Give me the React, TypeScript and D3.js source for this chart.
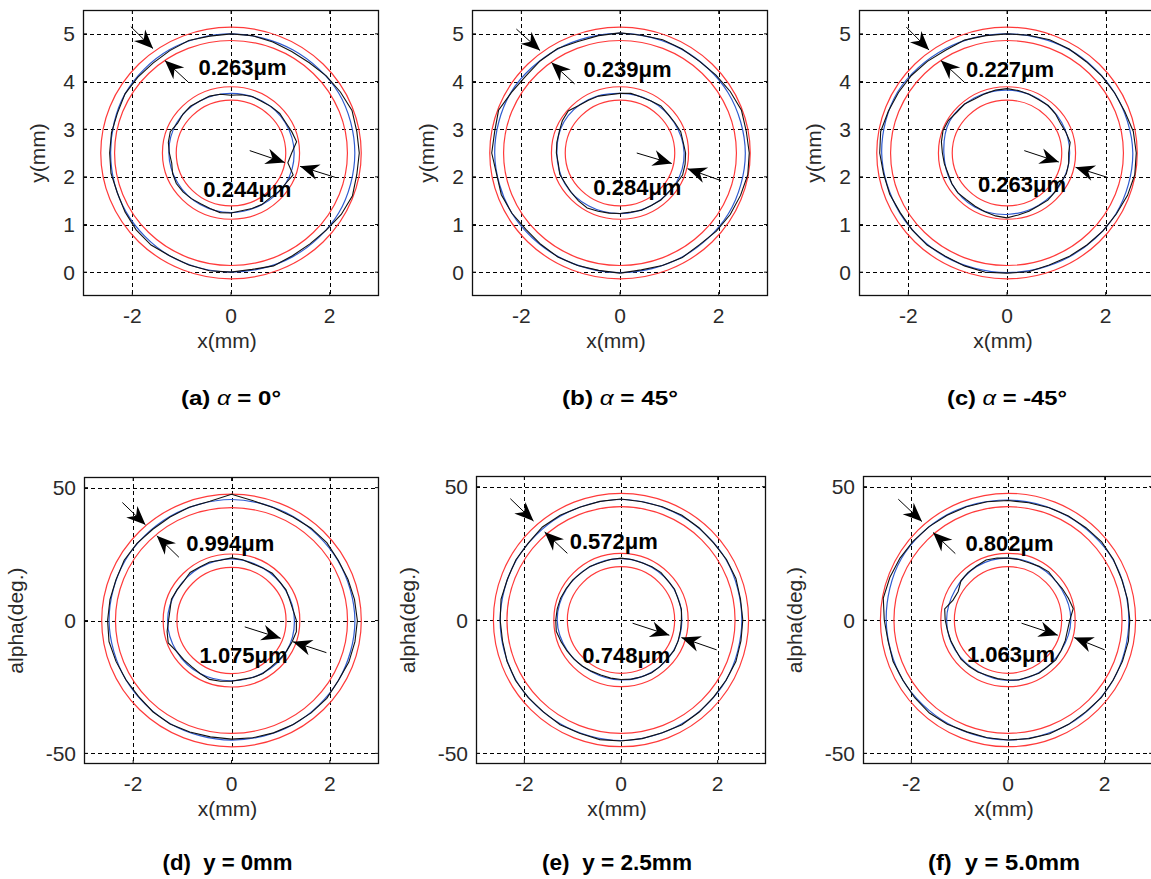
import React from 'react';
import * as d3 from 'd3';

const W = 1151;
const H = 879;

// axes
const xTicks = [-2, 0, 2];
const yTicksTop = [0, 1, 2, 3, 4, 5];
const yTicksBottom = [-50, 0, 50];
const xDomain = [-3, 3];
const yDomainTop = [-0.5, 5.5];
const yDomainBottom = [-54, 54];

// nominal rings (mm) and tolerance band
const ringRadii = [2.5, 1.25];
const tolerance = 0.14;
const ringCenterY = [2.5, 0];
const yUnitsPerMm = [1, 18];

// measured profile: radial deviation (mm), every 10 deg from +x, ccw
const blackOuter = [
  [0.10, 0.09, 0.11, 0.06, 0.02, -0.03, -0.04, -0.02, 0.00, 0.00, -0.01, 0.01, -0.02, -0.04, -0.03, -0.02, -0.05, -0.04, -0.04, -0.03, -0.05, -0.02, 0.01, 0.02, -0.01, 0.00, 0.01, 0.00, -0.02, 0.02, -0.01, -0.01, 0.02, 0.08, 0.12, 0.09],
  [0.12, 0.10, 0.12, 0.08, 0.04, 0.01, 0.02, 0.03, 0.01, 0.02, 0.00, -0.01, 0.03, 0.02, 0.00, 0.04, 0.12, 0.08, 0.10, 0.04, 0.06, 0.03, -0.01, 0.00, 0.02, 0.01, 0.00, 0.02, -0.01, 0.01, 0.03, 0.01, 0.05, 0.08, 0.10, 0.13],
  [0.12, 0.10, 0.04, 0.02, 0.01, 0.00, 0.02, 0.03, 0.01, 0.00, 0.00, 0.02, -0.01, 0.01, 0.03, 0.04, 0.06, 0.10, 0.08, 0.04, 0.03, 0.00, 0.01, 0.02, 0.00, 0.02, 0.04, 0.02, 0.03, 0.00, 0.01, 0.02, 0.04, 0.06, 0.10, 0.13],
  [0.06, 0.04, 0.02, 0.01, 0.03, 0.02, 0.00, 0.01, 0.04, 0.14, 0.03, 0.02, 0.00, -0.01, 0.01, 0.02, 0.00, 0.01, 0.02, 0.03, 0.00, -0.02, -0.03, -0.01, 0.00, -0.02, -0.03, -0.02, -0.01, 0.00, 0.01, 0.02, 0.03, 0.01, 0.04, 0.05],
  [0.02, 0.01, 0.03, 0.02, 0.00, 0.01, 0.02, 0.01, 0.00, 0.02, 0.01, 0.00, 0.02, 0.03, 0.00, 0.01, 0.00, 0.02, 0.00, -0.01, 0.01, 0.02, 0.01, 0.00, 0.02, 0.01, 0.03, 0.02, 0.01, 0.00, 0.02, 0.01, 0.00, 0.01, 0.03, 0.02],
  [0.02, 0.01, 0.00, 0.02, 0.03, 0.01, 0.00, -0.01, -0.02, -0.01, 0.00, 0.01, 0.02, 0.04, 0.06, 0.08, 0.10, 0.12, 0.06, 0.02, 0.03, 0.01, 0.02, 0.03, 0.01, -0.02, -0.01, 0.00, 0.01, 0.02, 0.01, 0.00, 0.02, 0.01, 0.02, 0.03],
];
const blackInner = [
  [-0.02, 0.10, 0.06, 0.03, 0.04, 0.02, 0.00, 0.01, -0.01, -0.04, 0.00, 0.02, 0.01, 0.03, 0.02, 0.00, 0.06, 0.04, 0.00, -0.03, 0.01, 0.03, 0.02, 0.00, -0.02, -0.01, 0.02, 0.01, -0.02, -0.01, 0.00, -0.02, 0.01, 0.03, 0.09, -0.08],
  [0.08, 0.05, 0.06, 0.03, 0.02, 0.04, 0.01, 0.00, 0.02, 0.00, -0.01, 0.02, 0.03, 0.05, 0.12, 0.10, 0.06, 0.05, 0.04, 0.02, 0.05, 0.03, 0.04, 0.06, 0.08, 0.05, 0.03, 0.02, 0.01, 0.03, 0.02, 0.04, 0.03, 0.06, 0.10, 0.09],
  [0.00, 0.05, 0.02, 0.00, 0.03, 0.05, 0.04, 0.06, 0.08, 0.10, 0.09, 0.07, 0.06, 0.09, 0.08, 0.12, 0.13, 0.10, 0.06, 0.04, 0.02, 0.04, 0.05, 0.03, 0.04, 0.06, 0.09, 0.11, 0.07, 0.05, 0.03, 0.04, 0.02, 0.00, 0.03, 0.02],
  [0.07, 0.02, 0.01, 0.03, 0.02, 0.04, 0.02, 0.01, 0.04, 0.06, 0.03, 0.05, 0.04, 0.06, 0.02, 0.03, 0.05, 0.02, 0.03, 0.08, 0.12, 0.04, 0.02, 0.01, 0.03, 0.06, 0.04, 0.02, 0.00, 0.02, 0.03, 0.01, 0.02, 0.04, 0.06, 0.09],
  [0.00, 0.02, 0.01, 0.03, 0.02, 0.04, 0.03, 0.02, 0.03, 0.04, 0.03, 0.02, 0.04, 0.03, 0.05, 0.06, 0.08, 0.09, 0.10, 0.11, 0.07, 0.04, 0.02, 0.00, -0.02, -0.03, -0.02, -0.01, 0.00, 0.01, 0.02, 0.01, 0.00, 0.02, 0.01, 0.00],
  [0.03, 0.12, 0.08, 0.05, 0.03, 0.06, 0.04, 0.02, 0.03, 0.04, 0.06, 0.08, 0.05, 0.04, 0.02, -0.06, -0.04, 0.08, 0.05, 0.02, 0.01, 0.00, 0.02, 0.01, 0.00, -0.02, -0.01, 0.00, 0.02, 0.01, 0.03, 0.02, 0.04, 0.02, 0.01, 0.00],
];

// fitted profile: radial deviation (mm), every 30 deg
const blueOuter = [
  [0.01, 0.02, 0.00, 0.00, 0.00, -0.02, -0.06, -0.04, -0.01, 0.00, 0.01, 0.02],
  [0.04, 0.03, 0.01, 0.01, 0.02, 0.05, 0.04, 0.03, 0.01, 0.01, 0.02, 0.04],
  [0.05, 0.02, 0.01, 0.00, 0.02, 0.06, 0.04, 0.01, 0.01, 0.01, 0.02, 0.05],
  [0.01, 0.00, 0.01, 0.03, 0.01, 0.00, -0.01, -0.02, -0.01, 0.00, 0.01, 0.01],
  [0.00, 0.01, 0.00, 0.01, 0.00, 0.00, 0.00, 0.01, 0.00, 0.01, 0.00, 0.01],
  [0.00, 0.01, -0.01, 0.00, 0.03, 0.05, 0.02, 0.01, -0.01, 0.00, 0.01, 0.01],
];
const blueInner = [
  [0.03, 0.02, 0.01, 0.00, 0.01, 0.02, 0.01, 0.00, 0.00, 0.00, 0.00, 0.03],
  [0.05, 0.02, 0.01, 0.00, 0.04, 0.06, 0.03, 0.04, 0.03, 0.02, 0.02, 0.05],
  [0.02, 0.03, 0.05, 0.07, 0.08, 0.09, 0.03, 0.04, 0.06, 0.04, 0.02, 0.02],
  [0.03, 0.02, 0.02, 0.04, 0.03, 0.03, 0.05, 0.04, 0.03, 0.01, 0.02, 0.04],
  [0.01, 0.02, 0.02, 0.03, 0.03, 0.05, 0.07, 0.03, -0.01, 0.00, 0.01, 0.01],
  [0.05, 0.03, 0.03, 0.04, 0.04, 0.01, 0.02, 0.01, -0.01, 0.01, 0.02, 0.02],
];

// annotation arrows [tailX, tailY, headX, headY] in data units
const arrows = [
  [[-2.03, 5.15, -1.58, 4.69], [-0.87, 3.99, -1.34, 4.44], [0.38, 2.55, 1.09, 2.30], [2.11, 1.99, 1.40, 2.22]],
  [[-2.10, 5.10, -1.62, 4.65], [-0.92, 3.95, -1.39, 4.40], [0.34, 2.50, 1.05, 2.28], [2.05, 1.92, 1.37, 2.17]],
  [[-2.04, 5.14, -1.58, 4.66], [-0.87, 3.99, -1.34, 4.44], [0.35, 2.55, 1.05, 2.31], [2.03, 1.99, 1.39, 2.20]],
  [[-2.22, 44.4, -1.75, 36.0], [-1.07, 23.8, -1.52, 31.9], [0.27, -2.4, 1.00, -6.7], [1.93, -12.1, 1.25, -8.0]],
  [[-2.29, 45.5, -1.81, 37.1], [-1.11, 25.0, -1.58, 33.0], [0.24, -1.2, 1.00, -5.7], [1.98, -11.2, 1.25, -6.6]],
  [[-2.27, 45.3, -1.78, 36.9], [-1.09, 24.9, -1.55, 32.8], [0.28, -1.2, 1.03, -5.7], [2.00, -11.2, 1.37, -6.6]],
];

const widthText = [
  ['0.263μm', '0.244μm'],
  ['0.239μm', '0.284μm'],
  ['0.227μm', '0.263μm'],
  ['0.994μm', '1.075μm'],
  ['0.572μm', '0.748μm'],
  ['0.802μm', '1.063μm'],
];
const widthTextPos = [
  [[-0.66, 4.13], [-0.56, 1.57]],
  [[-0.74, 4.10], [-0.54, 1.61]],
  [[-0.83, 4.10], [-0.59, 1.68]],
  [[-0.92, 26.3], [-0.65, -16.1]],
  [[-1.06, 26.5], [-0.80, -16.0]],
  [[-0.88, 26.0], [-0.85, -15.9]],
];

const captionPrefix = ['(a) ', '(b) ', '(c) '];
const captionAlpha = ['0°', '45°', '-45°'];
const captionBottom = ['(d)  y = 0mm', '(e)  y = 2.5mm', '(f)  y = 5.0mm'];
const yLabels = ['y(mm)', 'alpha(deg.)'];

// layout
const frames = [
  { x: 83, y: 10, w: 296, h: 286 },
  { x: 472, y: 10, w: 296, h: 286 },
  { x: 859, y: 10, w: 296, h: 286 },
  { x: 84, y: 477, w: 295, h: 287 },
  { x: 476, y: 476, w: 290, h: 288 },
  { x: 863, y: 476, w: 290, h: 288 },
];
const topCaptionLen = [100, 116, 120];
const bottomCaptionLen = [130, 150, 152];

const FONT = 'Liberation Sans, Arial, Helvetica, sans-serif';
const RED = '#ff3a3a';
const BLUE = '#2f5bd0';

function Panel({ i }: { i: number }) {
  const f = frames[i];
  const row = i < 3 ? 0 : 1;
  const xs = d3.scaleLinear().domain(xDomain).range([f.x, f.x + f.w]);
  const ys = d3.scaleLinear().domain(row ? yDomainBottom : yDomainTop).range([f.y + f.h, f.y]);
  const cy = ringCenterY[row];
  const k = yUnitsPerMm[row];
  const yTicks = row ? yTicksBottom : yTicksTop;
  const clipId = `clip${i}`;

  const pt = (r: number, deg: number): [number, number] => {
    const t = (deg * Math.PI) / 180;
    return [xs(r * Math.cos(t)), ys(cy + k * r * Math.sin(t))];
  };
  const profile = (R: number, devs: number[], curve: any) => {
    const step = 360 / devs.length;
    const pts = devs.map((d, j) => pt(R + d, j * step));
    return d3.line().curve(curve)(pts) || '';
  };

  // notched arrowhead, tip at origin pointing +x
  const arrowHead = 'M0,0 L-19,-8 L-13,0 L-19,8 Z';

  return (
    <g>
      <defs>
        <clipPath id={clipId}>
          <rect x={f.x} y={f.y} width={f.w} height={f.h} />
        </clipPath>
      </defs>
      <rect x={f.x} y={f.y} width={f.w} height={f.h} fill="#fff" />
      {/* grid */}
      <g stroke="#000" strokeWidth={1} strokeDasharray="4,3" clipPath={`url(#${clipId})`}>
        {xTicks.map(t => (
          <line key={'gx' + t} x1={Math.round(xs(t)) + 0.5} x2={Math.round(xs(t)) + 0.5} y1={f.y} y2={f.y + f.h} />
        ))}
        {yTicks.map(t => (
          <line key={'gy' + t} x1={f.x} x2={f.x + f.w} y1={Math.round(ys(t)) + 0.5} y2={Math.round(ys(t)) + 0.5} />
        ))}
      </g>
      <g clipPath={`url(#${clipId})`} fill="none">
        {ringRadii.map(R =>
          [R - tolerance, R + tolerance].map(r => (
            <ellipse
              key={'red' + r}
              cx={xs(0)}
              cy={ys(cy)}
              rx={xs(r) - xs(0)}
              ry={ys(cy) - ys(cy + k * r)}
              stroke={RED}
              strokeWidth={1.2}
            />
          ))
        )}
        <path d={profile(ringRadii[0], blueOuter[i], d3.curveCatmullRomClosed)} stroke={BLUE} strokeWidth={1.2} />
        <path d={profile(ringRadii[1], blueInner[i], d3.curveCatmullRomClosed)} stroke={BLUE} strokeWidth={1.2} />
        <path d={profile(ringRadii[0], blackOuter[i], d3.curveLinearClosed)} stroke="#111" strokeWidth={1.1} />
        <path d={profile(ringRadii[1], blackInner[i], d3.curveLinearClosed)} stroke="#111" strokeWidth={1.1} />
      </g>
      {/* arrows */}
      {arrows[i].map(([tx, ty, hx, hy], j) => {
        const x1 = xs(tx), y1 = ys(ty), x2 = xs(hx), y2 = ys(hy);
        const ang = (Math.atan2(y2 - y1, x2 - x1) * 180) / Math.PI;
        return (
          <g key={'ar' + j}>
            <line x1={x1} y1={y1} x2={x2} y2={y2} stroke="#000" strokeWidth={1} />
            <path d={arrowHead} transform={`translate(${x2},${y2}) rotate(${ang})`} fill="#000" />
          </g>
        );
      })}
      {widthText[i].map((s, j) => (
        <text
          key={'wt' + j}
          x={xs(widthTextPos[i][j][0])}
          y={ys(widthTextPos[i][j][1])}
          fontFamily={FONT}
          fontWeight="bold"
          fontSize={22}
          fill="#000"
        >
          {s}
        </text>
      ))}
      {/* box and ticks */}
      <rect x={f.x + 0.5} y={f.y + 0.5} width={f.w - 1} height={f.h - 1} fill="none" stroke="#111" strokeWidth={1.3} />
      <g stroke="#111" strokeWidth={1}>
        {xTicks.map(t => (
          <g key={'tx' + t}>
            <line x1={xs(t)} x2={xs(t)} y1={f.y + f.h} y2={f.y + f.h - 4} />
            <line x1={xs(t)} x2={xs(t)} y1={f.y} y2={f.y + 4} />
          </g>
        ))}
        {yTicks.map(t => (
          <g key={'ty' + t}>
            <line x1={f.x} x2={f.x + 4} y1={ys(t)} y2={ys(t)} />
            <line x1={f.x + f.w} x2={f.x + f.w - 4} y1={ys(t)} y2={ys(t)} />
          </g>
        ))}
      </g>
      <g fontFamily={FONT} fontSize={21} fill="#2a2a2a">
        {xTicks.map(t => (
          <text key={'lx' + t} x={xs(t)} y={f.y + f.h + 27} textAnchor="middle">
            {t < 0 ? '-' + Math.abs(t) : String(t)}
          </text>
        ))}
        {yTicks.map(t => (
          <text key={'ly' + t} x={f.x - 8} y={ys(t) + 7.5} textAnchor="end">
            {t < 0 ? '-' + Math.abs(t) : String(t)}
          </text>
        ))}
        <text x={f.x + f.w / 2 - 4} y={f.y + f.h + 52} textAnchor="middle">
          x(mm)
        </text>
        <text
          transform={`translate(${row ? f.x - 61 : f.x - 38},${f.y + f.h / 2}) rotate(-90)`}
          textAnchor="middle"
        >
          {yLabels[row]}
        </text>
      </g>
    </g>
  );
}

export default function App() {
  return (
    <svg
      width={W}
      height={H}
      viewBox={`0 0 ${W} ${H}`}
      style={{ position: 'absolute', left: 0, top: 0, background: '#fff' }}
    >
      <rect x={0} y={0} width={W} height={H} fill="#fff" />
      {frames.map((_, i) => (
        <Panel key={i} i={i} />
      ))}
      {captionPrefix.map((p, i) => (
        <text
          key={'ct' + i}
          x={frames[i].x + frames[i].w / 2}
          y={405}
          textAnchor="middle"
          fontFamily={FONT}
          fontSize={20}
          fill="#000"
          textLength={topCaptionLen[i]}
          lengthAdjust="spacingAndGlyphs"
          style={{ whiteSpace: 'pre' }}
        >
          <tspan fontWeight="bold">{p}</tspan>
          <tspan fontStyle="italic">α</tspan>
          <tspan fontWeight="bold">{' = ' + captionAlpha[i]}</tspan>
        </text>
      ))}
      {captionBottom.map((c, i) => (
        <text
          key={'cb' + i}
          x={frames[i + 3].x + frames[i + 3].w / 2 - 4}
          y={870}
          textAnchor="middle"
          fontFamily="Liberation Sans Narrow, Arial Narrow, Liberation Sans, Arial, sans-serif"
          fontWeight="bold"
          fontSize={22}
          fill="#000"
          textLength={bottomCaptionLen[i]}
          lengthAdjust="spacingAndGlyphs"
          style={{ whiteSpace: 'pre' }}
        >
          {c}
        </text>
      ))}
    </svg>
  );
}
